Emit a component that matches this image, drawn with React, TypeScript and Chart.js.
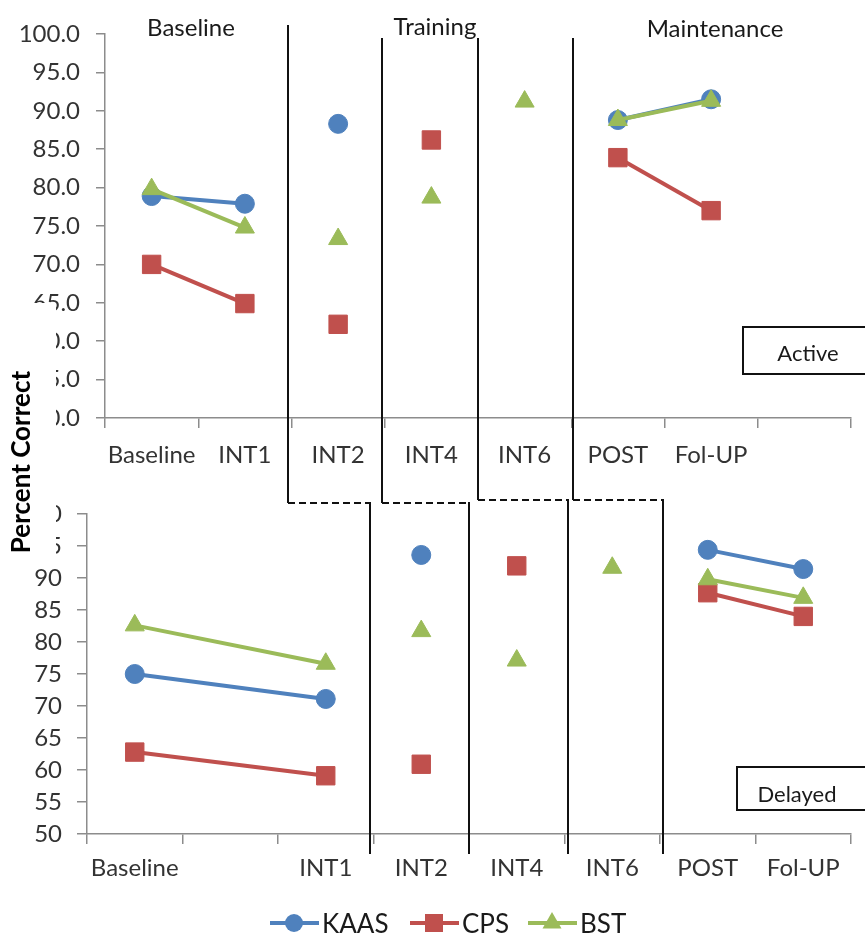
import React, { useEffect, useRef } from 'react';
import { Chart, registerables } from 'chart.js';

Chart.register(...registerables);

// ---------- data ----------
const activeLabels = ['Baseline', 'INT1', 'INT2', 'INT4', 'INT6', 'POST', 'Fol-UP', ''];
const activeKAAS = [78.9, 77.9, 88.3, null, null, 88.8, 91.5, null];
const activeCPS = [70.0, 64.9, 62.2, 86.2, null, 83.9, 77.0, null];
const activeBST = [79.8, 74.8, 73.3, 78.7, 91.2, 88.8, 91.3, null];

const delayedLabels = ['Baseline', '', 'INT1', 'INT2', 'INT4', 'INT6', 'POST', 'Fol-UP'];
const delayedKAAS = [75.0, null, 71.1, 93.6, null, null, 94.4, 91.4];
const delayedCPS = [62.8, null, 59.1, 60.9, 91.9, null, 87.7, 84.0];
const delayedBST = [82.6, null, 76.6, 81.7, 77.1, 91.6, 89.8, 86.9];

const seriesNames = ['KAAS', 'CPS', 'BST'];
const seriesColors = ['#4F81BD', '#C0504D', '#9BBB59'];
const seriesShapes = ['circle', 'rect', 'triangle'];
const seriesRadius = [9.5, 13, 11];
const phaseTitles = ['Baseline', 'Training', 'Maintenance'];
const panelNames = ['Active', 'Delayed'];
const connectedPairs = [['Baseline', 'INT1'], ['POST', 'Fol-UP']];
const yMin = 50;
const yMax = 100;
const yStep = 5;

const FONT = 'Lato, "Open Sans", sans-serif';
const AXIS = '#8c8c8c';
const TICK = '#333333';

function prevIndex(data: (number | null)[], b: number) {
  for (let k = b - 1; k >= 0; k--) if (data[k] !== null && data[k] !== undefined) return k;
  return -1;
}

function isConnected(labels: string[], data: (number | null)[], b: number) {
  const a = prevIndex(data, b);
  if (a < 0) return false;
  return connectedPairs.some(([p, q]) => labels[a] === p && labels[b] === q);
}

function buildConfig(
  labels: string[],
  series: (number | null)[][],
  geo: { yWidth: number; xHeight: number; top: number; right: number; bottom: number; yTickLen: number; yPad: number; xPad: number; decimals: number }
): any {
  return {
    type: 'line',
    data: {
      labels,
      datasets: series.map((d, i) => ({
        label: seriesNames[i],
        data: d,
        borderColor: seriesColors[i],
        backgroundColor: seriesColors[i],
        pointBackgroundColor: seriesColors[i],
        pointBorderColor: seriesColors[i],
        pointBorderWidth: 1,
        pointStyle: seriesShapes[i],
        pointRadius: seriesRadius[i],
        borderWidth: 4,
        spanGaps: true,
        fill: false,
        tension: 0,
        order: 3 - i,
        segment: {
          borderColor: (ctx: any) =>
            isConnected(labels, d, ctx.p1DataIndex) ? seriesColors[i] : 'rgba(0,0,0,0)',
        },
      })),
    },
    options: {
      animation: false,
      responsive: false,
      events: [],
      layout: { padding: { top: geo.top, right: geo.right, bottom: geo.bottom, left: 0 } },
      plugins: { legend: { display: false }, tooltip: { enabled: false }, title: { display: false } },
      scales: {
        x: {
          type: 'category',
          offset: true,
          grid: { offset: true, drawOnChartArea: false, tickLength: 10, color: AXIS, lineWidth: 1.5 },
          border: { color: AXIS, width: 1.5 },
          ticks: {
            autoSkip: false,
            maxRotation: 0,
            minRotation: 0,
            padding: geo.xPad,
            color: TICK,
            font: { family: FONT, size: 24 },
          },
          afterFit: (s: any) => {
            s.height = geo.xHeight;
          },
        },
        y: {
          min: yMin,
          max: yMax,
          grid: { drawOnChartArea: false, tickLength: geo.yTickLen, color: AXIS, lineWidth: 1.5 },
          border: { color: AXIS, width: 1.5 },
          ticks: {
            stepSize: yStep,
            padding: geo.yPad,
            color: TICK,
            font: { family: FONT, size: 24 },
            callback: (v: any) => Number(v).toFixed(geo.decimals),
          },
          afterFit: (s: any) => {
            s.width = geo.yWidth;
          },
        },
      },
    },
  };
}

function Overlay() {
  const solid = { stroke: '#111', strokeWidth: 2, fill: 'none' } as const;
  const dashed = { stroke: '#111', strokeWidth: 2, fill: 'none', strokeDasharray: '7 4' } as const;
  const legendX = [270, 410, 528];
  const legendY = 923;
  return (
    <svg
      width={865}
      height={938}
      style={{ position: 'absolute', left: 0, top: 0, pointerEvents: 'none' }}
    >
      {/* phase separators */}
      <line x1={288} y1={25} x2={288} y2={503} {...solid} />
      <line x1={382} y1={38} x2={382} y2={503} {...solid} />
      <line x1={478} y1={38} x2={478} y2={500} {...solid} />
      <line x1={573} y1={38} x2={573} y2={500} {...solid} />
      <line x1={288} y1={503} x2={370} y2={503} {...dashed} />
      <line x1={382} y1={503} x2={469} y2={503} {...dashed} />
      <line x1={478} y1={500} x2={568} y2={500} {...dashed} />
      <line x1={573} y1={500} x2={663} y2={500} {...dashed} />
      <line x1={370} y1={502} x2={370} y2={854} {...solid} />
      <line x1={469} y1={502} x2={469} y2={854} {...solid} />
      <line x1={568} y1={499} x2={568} y2={854} {...solid} />
      <line x1={663} y1={499} x2={663} y2={854} {...solid} />

      {/* phase titles */}
      <g fontFamily={FONT} fontSize={24} fill="#1a1a1a" textAnchor="middle" dominantBaseline="central">
        <text x={191} y={26}>{phaseTitles[0]}</text>
        <text x={435} y={25}>{phaseTitles[1]}</text>
        <text x={715} y={27}>{phaseTitles[2]}</text>
      </g>

      {/* panel boxes */}
      <rect x={743} y={327} width={130} height={47} {...solid} />
      <text x={808} y={352} fontFamily={FONT} fontSize={22} fill="#1a1a1a" textAnchor="middle" dominantBaseline="central">
        {panelNames[0]}
      </text>
      <rect x={737} y={767} width={136} height={43} {...solid} />
      <text x={797} y={793} fontFamily={FONT} fontSize={22} fill="#1a1a1a" textAnchor="middle" dominantBaseline="central">
        {panelNames[1]}
      </text>

      {/* y-axis title with white backing */}
      <rect x={0} y={303} width={56} height={258} fill="#ffffff" />
      <text
        x={0}
        y={0}
        transform="translate(20 462) rotate(-90)"
        fontFamily={FONT}
        fontWeight="bold"
        fontSize={26}
        fill="#000"
        textAnchor="middle"
        dominantBaseline="central"
      >
        Percent Correct
      </text>

      {/* legend */}
      {seriesNames.map((n, i) => {
        const x0 = legendX[i];
        const cx = x0 + 24;
        const c = seriesColors[i];
        let marker;
        if (i === 0) marker = <circle cx={cx} cy={legendY} r={9} fill={c} />;
        else if (i === 1) marker = <rect x={cx - 9} y={legendY - 9} width={18} height={18} fill={c} />;
        else
          marker = (
            <polygon
              points={`${cx},${legendY - 11} ${cx - 9.5},${legendY + 5.5} ${cx + 9.5},${legendY + 5.5}`}
              fill={c}
            />
          );
        return (
          <g key={n}>
            <line x1={x0} y1={legendY} x2={x0 + 49} y2={legendY} stroke={c} strokeWidth={4} />
            {marker}
            <text x={x0 + 52} y={legendY} fontFamily={FONT} fontSize={26} fill="#1a1a1a" dominantBaseline="central">
              {n}
            </text>
          </g>
        );
      })}
    </svg>
  );
}

export default function App() {
  const topRef = useRef<HTMLCanvasElement>(null);
  const botRef = useRef<HTMLCanvasElement>(null);

  useEffect(() => {
    const top = new Chart(
      topRef.current as HTMLCanvasElement,
      buildConfig(activeLabels, [activeKAAS, activeCPS, activeBST], {
        yWidth: 105,
        xHeight: 60,
        top: 34,
        right: 4,
        bottom: 2,
        yTickLen: 9,
        yPad: 16,
        xPad: 13,
        decimals: 1,
      })
    );
    const bot = new Chart(
      botRef.current as HTMLCanvasElement,
      buildConfig(delayedLabels, [delayedKAAS, delayedCPS, delayedBST], {
        yWidth: 87,
        xHeight: 60,
        top: 34,
        right: 2,
        bottom: 44,
        yTickLen: 10,
        yPad: 15,
        xPad: 10,
        decimals: 0,
      })
    );
    return () => {
      top.destroy();
      bot.destroy();
    };
  }, []);

  return (
    <div style={{ position: 'absolute', left: 0, top: 0, width: 865, height: 938, background: '#fff', overflow: 'hidden' }}>
      <canvas ref={topRef} width={865} height={480} style={{ position: 'absolute', left: 0, top: 0, width: 865, height: 480 }} />
      <canvas ref={botRef} width={865} height={458} style={{ position: 'absolute', left: 0, top: 480, width: 865, height: 458 }} />
      <Overlay />
    </div>
  );
}
